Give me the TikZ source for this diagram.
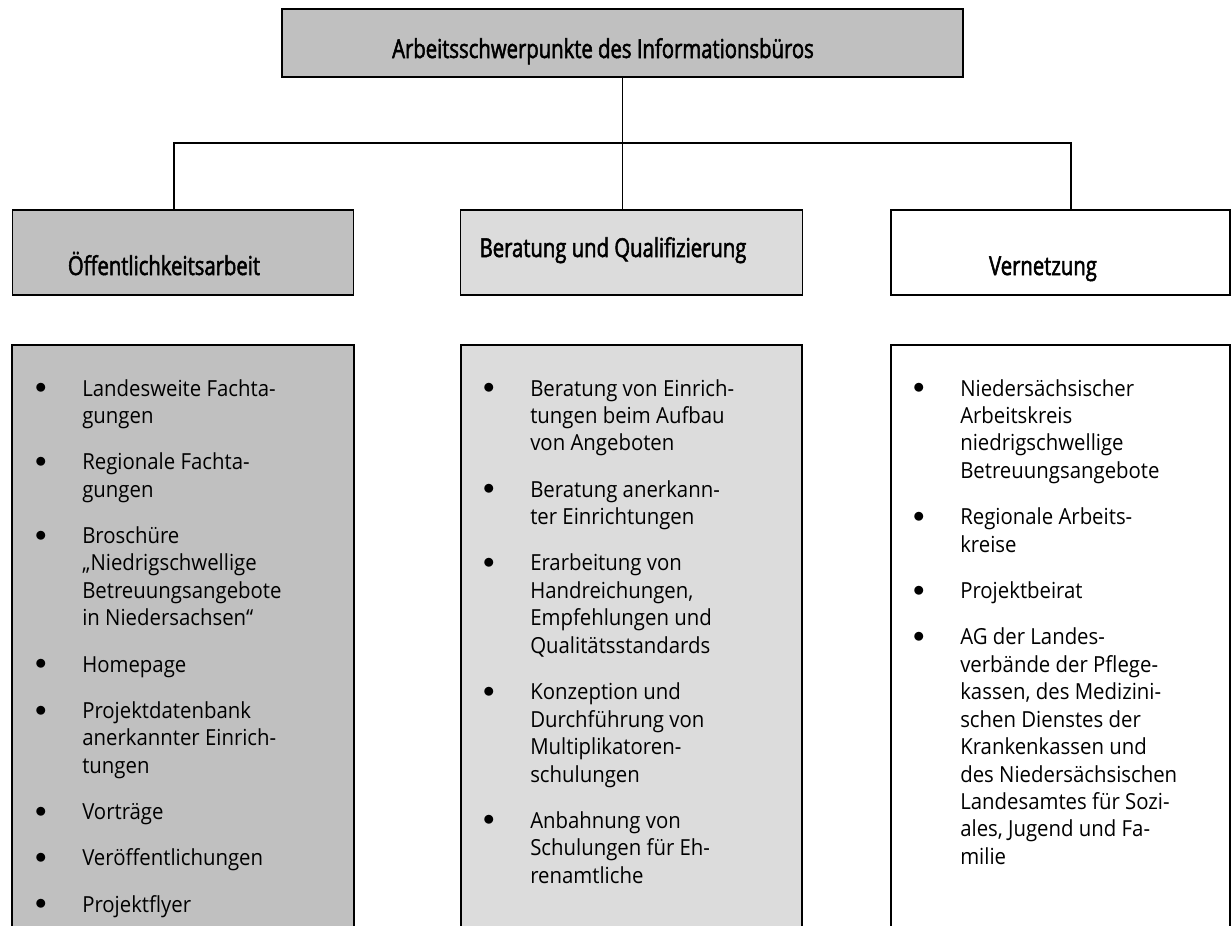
\documentclass[tikz,border=0pt]{standalone}
\usepackage{fontspec}
\setmainfont{Open Sans}[FakeStretch=0.92]
\newfontfamily\headfont{Open Sans}[FakeStretch=0.78,FakeBold=2]

\definecolor{boxdark}{HTML}{C0C0C0}
\definecolor{boxlight}{HTML}{DCDCDC}

% bullet in front of a list line, and the space between two items
\newcommand{\blt}{\llap{\makebox[0pt]{\raisebox{1.8pt}{$\bullet$}}\hspace{31pt}}}
\newcommand{\itemgap}{\\[14.1pt]}

\tikzset{
  frame/.style={draw, line width=0.9pt},
  headbox/.style={frame, inner sep=0pt, minimum width=256pt, minimum height=63.75pt},
  headtext/.style={anchor=base, inner sep=0pt, font=\headfont\fontsize{19.5pt}{23pt}\selectfont},
  listtext/.style={anchor=base west, inner sep=0pt, font=\fontsize{16.6pt}{20.6pt}\selectfont},
}

\begin{document}
\begin{tikzpicture}[x=0.75pt, y=-0.75pt]
\useasboundingbox (0,0) rectangle (1232,925);

% top box
\node [frame, fill=boxdark, inner sep=0pt, minimum width=510.75pt, minimum height=51pt] (top) at (622.5, 43) {};
\node [headtext] (toptext) at (603, 58) {Arbeitsschwerpunkte des Informationsbüros};

% the three headings
\node [headbox, fill=boxdark] (oeff) at (183, 252.5) {};
\node [headbox, fill=boxlight] (bera) at (631.5, 252.5) {};
\node [headbox, fill=white, minimum width=254.25pt] (vern) at (1060.5, 252.5) {};
\node [headtext] (oefftext) at (164, 275) {Öffentlichkeitsarbeit};
\node [headtext] (beratext) at (613, 257) {Beratung und Qualifizierung};
\node [headtext] (verntext) at (1043, 275) {Vernetzung};

% lines
\coordinate (barL) at (174, 143);
\coordinate (barR) at (1071, 143);
\draw [line width=0.9pt] (top.south) -- (top.south |- bera.north);
\draw [line width=0.9pt] (oeff.north -| barL) -- (barL) -- (barR) -- (vern.north -| barR);

% lower boxes, open at the bottom
\draw [frame, fill=boxdark] (12, 940) |- (354, 345) -- (354, 940);
\draw [frame, fill=boxlight] (461, 940) |- (802, 345) -- (802, 940);
\draw [frame, fill=white] (891, 940) |- (1230, 345) -- (1230, 940);

% list Oeffentlichkeitsarbeit
\node [listtext] (oefflist) at (82, 396) {\begin{tabular}[t]{@{}l@{}}
\blt Landesweite Fachta-\\ gungen\itemgap
\blt Regionale Fachta-\\ gungen\itemgap
\blt Broschüre\\ „Niedrigschwellige\\ Betreuungsangebote\\ in Niedersachsen“\itemgap
\blt Homepage\itemgap
\blt Projektdatenbank\\ anerkannter Einrich-\\ tungen\itemgap
\blt Vorträge\itemgap
\blt Veröffentlichungen\itemgap
\blt Projektflyer
\end{tabular}};

% list Beratung
\node [listtext] (beralist) at (530, 396) {\begin{tabular}[t]{@{}l@{}}
\blt Beratung von Einrich-\\ tungen beim Aufbau\\ von Angeboten\itemgap
\blt Beratung anerkann-\\ ter Einrichtungen\itemgap
\blt Erarbeitung von\\ Handreichungen,\\ Empfehlungen und\\ Qualitätsstandards\itemgap
\blt Konzeption und\\ Durchführung von\\ Multiplikatoren-\\ schulungen\itemgap
\blt Anbahnung von\\ Schulungen für Eh-\\ renamtliche
\end{tabular}};

% list Vernetzung
\node [listtext] (vernlist) at (960, 396) {\begin{tabular}[t]{@{}l@{}}
\blt Niedersächsischer\\ Arbeitskreis\\ niedrigschwellige\\ Betreuungsangebote\itemgap
\blt Regionale Arbeits-\\ kreise\itemgap
\blt Projektbeirat\itemgap
\blt AG der Landes-\\ verbände der Pflege-\\ kassen, des Medizini-\\ schen Dienstes der\\ Krankenkassen und\\ des Niedersächsischen\\ Landesamtes für Sozi-\\ ales, Jugend und Fa-\\ milie
\end{tabular}};

\end{tikzpicture}
\end{document}
